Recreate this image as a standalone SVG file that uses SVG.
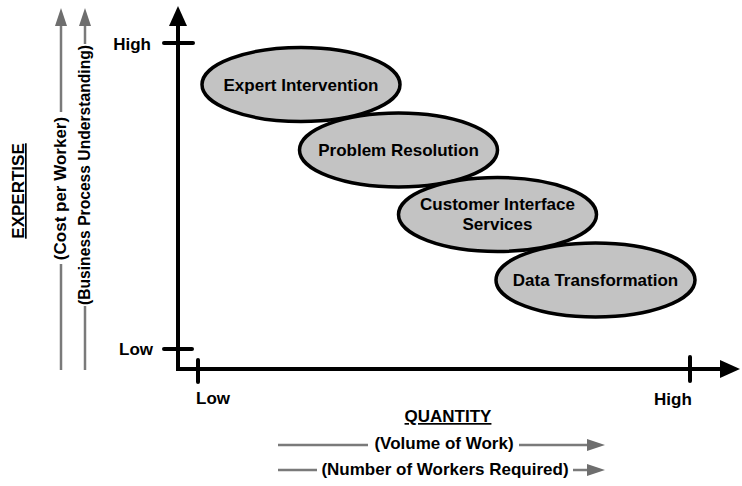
<svg xmlns="http://www.w3.org/2000/svg" width="742" height="486" viewBox="0 0 742 486">
<style>
text{font-family:"Liberation Sans",Arial,sans-serif;font-weight:bold;font-size:17px;fill:#000}
.mid{text-anchor:middle}
.end{text-anchor:end}
.ul{text-decoration:underline}
.axis{fill:none;stroke:#000;stroke-width:4;stroke-linejoin:miter}
.tick{stroke:#000;stroke-width:4;stroke-linecap:round}
.garrow{fill:none;stroke:#7a7a7a;stroke-width:2.5}
.node ellipse{fill:#c3c3c3;stroke:#000;stroke-width:3.5}
</style>
<defs>
<marker id="axHead" markerUnits="userSpaceOnUse" markerWidth="20" markerHeight="18" viewBox="0 0 20 18" refX="1" refY="9" orient="auto-start-reverse">
<path d="M0,0 L20,9 L0,18 z" fill="#000"/>
</marker>
<marker id="gHead" markerUnits="userSpaceOnUse" markerWidth="18" markerHeight="12" viewBox="0 0 18 12" refX="1" refY="6" orient="auto">
<path d="M0,0 L18,6 L0,12 z" fill="#6e6e6e"/>
</marker>
</defs>

<g id="connectors">
<path class="axis" d="M178,25 V369 H721" marker-start="url(#axHead)" marker-end="url(#axHead)"/>
<line class="tick" x1="164" y1="43" x2="193" y2="43"/>
<line class="tick" x1="164" y1="349" x2="192" y2="349"/>
<line class="tick" x1="198" y1="360" x2="198" y2="382"/>
<line class="tick" x1="690" y1="357" x2="690" y2="381"/>
<path class="garrow" d="M61,370 V264"/>
<path class="garrow" d="M61,112 V25" marker-end="url(#gHead)"/>
<path class="garrow" d="M85,370 V306"/>
<path class="garrow" d="M85,44 V25" marker-end="url(#gHead)"/>
<path class="garrow" d="M278,445 H368"/>
<path class="garrow" d="M519,445 H588" marker-end="url(#gHead)"/>
<path class="garrow" d="M278,470 H317"/>
<path class="garrow" d="M573,470 H588" marker-end="url(#gHead)"/>
</g>

<g id="axis-labels">
<text class="end" x="151" y="50">High</text>
<text class="end" x="153" y="355">Low</text>
<text x="196" y="404">Low</text>
<text x="654" y="405">High</text>
<text class="mid ul" x="448" y="422">QUANTITY</text>
<text class="mid" x="444" y="449">(Volume of Work)</text>
<text class="mid" x="445" y="475">(Number of Workers Required)</text>
<text class="mid ul" transform="translate(24,191) rotate(-90)">EXPERTISE</text>
<text class="mid" transform="translate(66,188.5) rotate(-90)">(Cost per Worker)</text>
<text class="mid" transform="translate(90,175) rotate(-90)" textLength="260" lengthAdjust="spacingAndGlyphs">(Business Process Understanding)</text>
</g>

<g id="expert-intervention" class="node">
<ellipse cx="301" cy="84.5" rx="99" ry="37"/>
<text class="mid" x="301" y="90.5">Expert Intervention</text>
</g>
<g id="problem-resolution" class="node">
<ellipse cx="398.5" cy="150" rx="99" ry="37"/>
<text class="mid" x="398.5" y="156">Problem Resolution</text>
</g>
<g id="customer-interface-services" class="node">
<ellipse cx="497.5" cy="214.5" rx="99" ry="37"/>
<text class="mid" x="497.5" y="210">Customer Interface</text>
<text class="mid" x="497.5" y="230">Services</text>
</g>
<g id="data-transformation" class="node">
<ellipse cx="595.5" cy="280" rx="99.5" ry="37"/>
<text class="mid" x="595.5" y="286">Data Transformation</text>
</g>
</svg>
